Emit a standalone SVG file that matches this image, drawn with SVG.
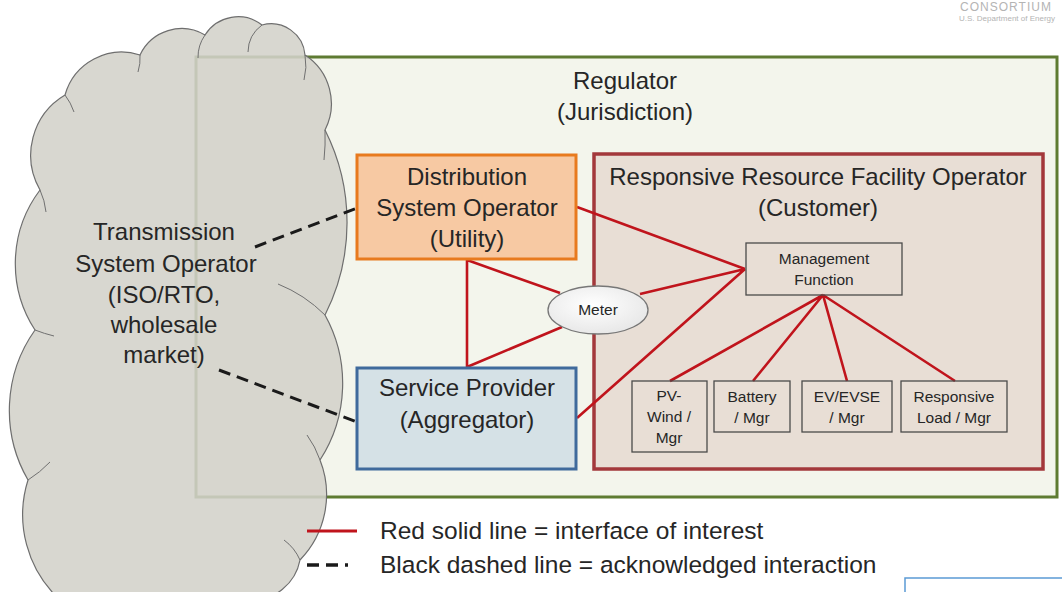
<svg xmlns="http://www.w3.org/2000/svg" width="1062" height="592" viewBox="0 0 1062 592">
<defs>
<style>
text{font-family:"Liberation Sans",Arial,sans-serif;fill:#262626;text-anchor:middle}
.big{font-size:24px}
.sm{font-size:15.5px}
.red{stroke:#c0141c;stroke-width:2.6;fill:none}
.dash{stroke:#1a1a1a;stroke-width:3;stroke-dasharray:12,7;fill:none}
.sub{fill:none;stroke:#4a4a4a;stroke-width:1.3}
</style>
<radialGradient id="mg" cx="0.45" cy="0.4" r="0.7">
<stop offset="0" stop-color="#ffffff"/>
<stop offset="1" stop-color="#e4e4e4"/>
</radialGradient>
</defs>
<rect width="1062" height="592" fill="#ffffff"/>
<g id="consortium">
<text x="1006" y="11" style="font-size:12px;fill:#b4b4b4;letter-spacing:1px">CONSORTIUM</text>
<text x="1007" y="21" style="font-size:8px;fill:#b4b4b4">U.S. Department of Energy</text>
</g>
<g id="regulator">
<rect x="196" y="57" width="861" height="440" fill="#f3f5ec" stroke="#5e7b32" stroke-width="3"/>
<text class="big" x="625" y="89">Regulator</text>
<text class="big" x="625" y="120">(Jurisdiction)</text>
</g>
<g id="tso">
<path d="M40 190 A70 70 0 0 1 65 95 A59 59 0 0 1 140 55 A46 46 0 0 1 205 35 A39 39 0 0 1 262 25 A34 34 0 0 1 305 55 A58 58 0 0 1 325 130 A205 205 0 0 1 325 315 A141 141 0 0 1 320 460 A94 94 0 0 1 300 560 A49 49 0 0 1 250 600 L60 600 A116 116 0 0 1 28 480 A139 139 0 0 1 35 330 A122 122 0 0 1 40 190 Z" fill="#d3d1c9" fill-opacity="0.88" stroke="#6e6e6e" stroke-width="1.2"/>
<path d="M40 190 A70 70 0 0 1 46 212 M65 95 A59 59 0 0 1 74 112 M140 55 A46 46 0 0 1 138 72 M205 35 A39 39 0 0 0 198 58 M262 25 A34 34 0 0 0 248 52 M305 55 A58 58 0 0 1 304 80 M325 130 A205 205 0 0 1 324 160 M325 315 A141 141 0 0 0 278 284 M320 460 A94 94 0 0 0 307 435 M300 560 A49 49 0 0 0 284 540 M28 480 A116 116 0 0 0 50 462 M35 330 A139 139 0 0 0 54 336" fill="none" stroke="#707070" stroke-width="1"/>
<text class="big" x="164" y="240">Transmission</text>
<text class="big" x="166" y="272">System Operator</text>
<text class="big" x="164" y="303">(ISO/RTO,</text>
<text class="big" x="164" y="333">wholesale</text>
<text class="big" x="164" y="363">market)</text>
</g>
<g id="rrfo">
<rect x="594" y="154" width="449" height="315" fill="#e8ded5" stroke="#a3383b" stroke-width="3.5"/>
<text class="big" x="818" y="185">Responsive Resource Facility Operator</text>
<text class="big" x="818" y="216">(Customer)</text>
</g>
<g id="connectors">
<path class="red" d="M577 207 L745 269 M467 260 L467 367 M467 260 L560 293 M467 367 L562 327 M640 294 L745 269 M577 418 L745 269 M823 295 L670 381 M823 295 L753 381 M823 295 L847 381 M823 295 L955 381"/>
<path class="dash" d="M255 247 L357 208 M219 370 L357 422"/>
</g>
<g id="dso">
<rect x="357" y="155" width="219" height="104" fill="#f7c9a3" stroke="#e87a1e" stroke-width="3"/>
<text class="big" x="467" y="185">Distribution</text>
<text class="big" x="467" y="216">System Operator</text>
<text class="big" x="467" y="247">(Utility)</text>
</g>
<g id="sp">
<rect x="357" y="368" width="219" height="101" fill="#d5e1e6" stroke="#3f6a9c" stroke-width="3"/>
<text class="big" x="467" y="396">Service Provider</text>
<text class="big" x="467" y="428">(Aggregator)</text>
</g>
<g id="meter">
<ellipse cx="598" cy="310" rx="50" ry="24" fill="url(#mg)" stroke="#777777" stroke-width="1.3"/>
<text class="sm" x="598" y="315">Meter</text>
</g>
<g id="mgmt">
<rect x="746" y="243" width="156" height="52" class="sub"/>
<text class="sm" x="824" y="264">Management</text>
<text class="sm" x="824" y="285">Function</text>
</g>
<g id="pv">
<rect x="632" y="381" width="75" height="71" class="sub"/>
<text class="sm" x="669" y="401">PV-</text>
<text class="sm" x="669" y="422">Wind /</text>
<text class="sm" x="669" y="443">Mgr</text>
</g>
<g id="battery">
<rect x="714" y="381" width="76" height="51" class="sub"/>
<text class="sm" x="752" y="402">Battery</text>
<text class="sm" x="752" y="423">/ Mgr</text>
</g>
<g id="ev">
<rect x="802" y="381" width="90" height="51" class="sub"/>
<text class="sm" x="847" y="402">EV/EVSE</text>
<text class="sm" x="847" y="423">/ Mgr</text>
</g>
<g id="load">
<rect x="901" y="381" width="106" height="51" class="sub"/>
<text class="sm" x="954" y="402">Responsive</text>
<text class="sm" x="954" y="423">Load / Mgr</text>
</g>
<g id="legend">
<line x1="307" y1="531" x2="357" y2="531" stroke="#c0141c" stroke-width="3"/>
<path d="M307 565 H319 M326 565 H338 M345 565 H348" stroke="#1a1a1a" stroke-width="3.5"/>
<text x="380" y="539" style="font-size:24.5px;text-anchor:start">Red solid line = interface of interest</text>
<text x="380" y="573" style="font-size:24.5px;text-anchor:start">Black dashed line = acknowledged interaction</text>
</g>
<g id="bluebox">
<rect x="905" y="578" width="170" height="30" fill="#ffffff" stroke="#5b9bd5" stroke-width="1.5"/>
</g>
</svg>
